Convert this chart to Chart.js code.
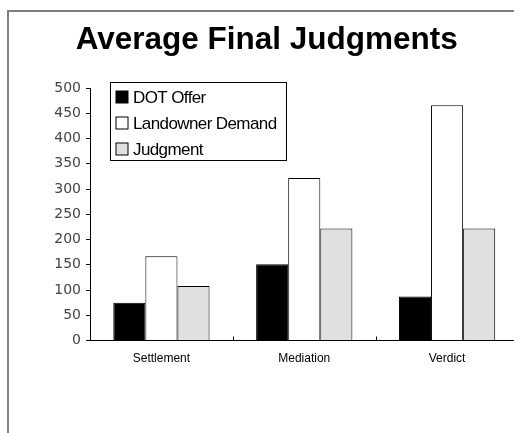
<!DOCTYPE html>
<html>
<head>
<meta charset="utf-8">
<script src="https://cdn.jsdelivr.net/npm/chart.js@4.4.1/dist/chart.umd.min.js"></script>
<style>
  html, body { margin: 0; padding: 0; background: #fff; overflow: hidden; }
  #wrap { position: absolute; left: 0; top: 0; width: 533px; height: 433px; }
  #frame { position: absolute; left: 7px; top: 10px; width: 600px; height: 500px;
           border-left: 2px solid #7f7f7f; border-top: 2px solid #7f7f7f; pointer-events: none; }
</style>
</head>
<body>
<div id="wrap"><canvas id="c" width="533" height="433"></canvas></div>
<div id="frame"></div>
<script>
const categories = ["Settlement", "Mediation", "Verdict"];
const dotOffer = [75, 151, 87];
const landownerDemand = [167, 322, 466];
const judgment = [108, 222, 222];
const seriesNames = ["DOT Offer", "Landowner Demand", "Judgment"];
const yTicks = [0, 50, 100, 150, 200, 250, 300, 350, 400, 450, 500];

const legendBox = {
  id: 'legendBox',
  afterDatasetsDraw(chart) {
    const ctx = chart.ctx;
    const ca = chart.chartArea;
    const x0 = ca.left + 20.5, y0 = 82.5, w = 176, h = 78;
    ctx.save();
    ctx.strokeStyle = '#000';
    ctx.lineWidth = 1;
    ctx.fillStyle = '#fff';
    ctx.fillRect(x0, y0, w, h);
    ctx.strokeRect(x0, y0, w, h);
    chart.data.datasets.forEach((ds, i) => {
      const cy = y0 + 14.5 + i * 26;
      ctx.fillStyle = ds.backgroundColor;
      ctx.fillRect(x0 + 5.5, cy - 6, 12, 12);
      ctx.strokeStyle = '#000';
      ctx.strokeRect(x0 + 5.5, cy - 6, 12, 12);
      ctx.fillStyle = '#000';
      ctx.font = '17px "Liberation Sans", Arial, sans-serif';
      try { ctx.letterSpacing = '-0.6px'; } catch (e) {}
      ctx.textBaseline = 'middle';
      ctx.textAlign = 'left';
      ctx.fillText(ds.label, x0 + 22.5, cy + 1);
      try { ctx.letterSpacing = '0px'; } catch (e) {}
    });
    ctx.restore();
  }
};

const insideTicks = {
  id: 'insideTicks',
  afterDatasetsDraw(chart) {
    const xs = chart.scales.x;
    const ctx = chart.ctx;
    const b = chart.chartArea.bottom;
    ctx.save();
    ctx.strokeStyle = '#000';
    ctx.lineWidth = 1;
    for (let i = 0; i < categories.length - 1; i++) {
      const px = Math.round((xs.getPixelForValue(i) + xs.getPixelForValue(i + 1)) / 2) + 0.5;
      ctx.beginPath();
      ctx.moveTo(px, b);
      ctx.lineTo(px, b - 4);
      ctx.stroke();
    }
    ctx.restore();
  }
};

new Chart(document.getElementById('c'), {
  type: 'bar',
  data: {
    labels: categories,
    datasets: [
      { label: seriesNames[0], data: dotOffer, backgroundColor: '#000000', borderColor: '#000000', borderWidth: 1 },
      { label: seriesNames[1], data: landownerDemand, backgroundColor: '#ffffff', borderColor: '#000000', borderWidth: 1 },
      { label: seriesNames[2], data: judgment, backgroundColor: '#e0e0e0', borderColor: '#000000', borderWidth: 1 }
    ]
  },
  options: {
    responsive: false,
    animation: false,
    devicePixelRatio: 1,
    layout: { padding: { left: 15, right: 14.5, top: 0, bottom: 62 } },
    datasets: { bar: { categoryPercentage: 0.674, barPercentage: 1.0 } },
    plugins: {
      legend: { display: false },
      tooltip: { enabled: false },
      title: {
        display: true,
        text: 'Average Final Judgments',
        color: '#000',
        font: { family: '"Liberation Sans", Arial, sans-serif', size: 31.5, weight: 'bold', lineHeight: 1.2 },
        padding: { top: 21, bottom: 29.2 }
      }
    },
    scales: {
      x: {
        grid: { display: false, drawTicks: false },
        border: { display: true, color: '#000', width: 1 },
        ticks: { color: '#000', padding: 11, font: { family: '"Liberation Sans", Arial, sans-serif', size: 12 } },
        afterFit(scale) { scale.height = 30.5; }
      },
      y: {
        min: 0, max: 500,
        afterBuildTicks(scale) { scale.ticks = yTicks.map(v => ({ value: v })); },
        grid: { drawOnChartArea: false, drawTicks: true, tickLength: 4, color: '#000' },
        border: { display: true, color: '#000', width: 1 },
        ticks: { color: '#444', padding: 5, font: { family: '"DejaVu Sans", sans-serif', size: 14 } },
        afterFit(scale) { scale.width = 75; }
      }
    }
  },
  plugins: [insideTicks, legendBox]
});
</script>
</body>
</html>
